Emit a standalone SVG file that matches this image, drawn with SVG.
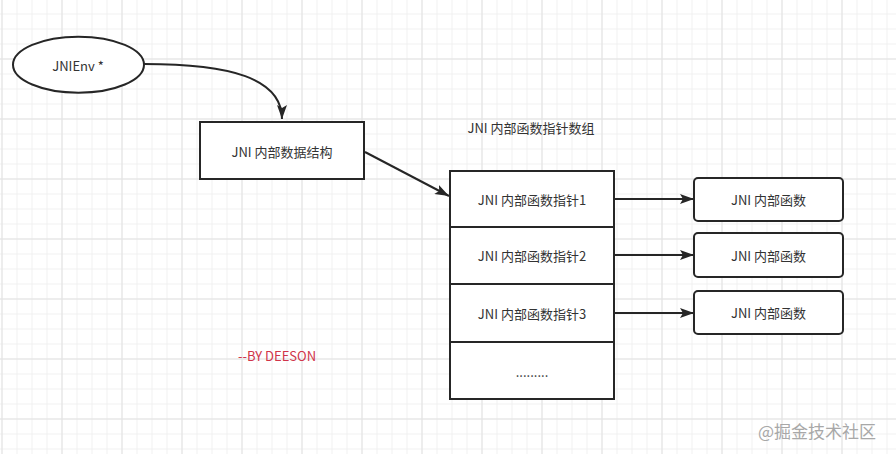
<svg xmlns="http://www.w3.org/2000/svg" width="896" height="454" viewBox="0 0 896 454">
<defs>
<pattern id="minor" x="1.5" y="13.5" width="15" height="15" patternUnits="userSpaceOnUse">
<path d="M0.5,0 V15 M0,0.5 H15" stroke="#f0f0f0" stroke-width="1" fill="none"/>
</pattern>
<pattern id="major" x="1.5" y="58.5" width="60" height="60" patternUnits="userSpaceOnUse">
<path d="M0.5,0 V60 M0,0.5 H60" stroke="#e2e2e2" stroke-width="1" fill="none"/>
</pattern>
<marker id="arr" viewBox="0 0 14 10" refX="14" refY="5" markerWidth="14" markerHeight="10" markerUnits="userSpaceOnUse" orient="auto">
<path d="M0,0 L14,5 L0,10 L3,5 Z" fill="#262626"/>
</marker>
<style>
.t{font-family:"Microsoft YaHei","Noto Sans CJK SC","Noto Sans",sans-serif;font-size:13px;fill:#333;text-anchor:middle;dominant-baseline:central}
.box{fill:#fff;stroke:#262626;stroke-width:2}
.ln{fill:none;stroke:#262626;stroke-width:2}
</style>
</defs>
<rect width="896" height="454" fill="#fff"/>
<rect width="896" height="454" fill="url(#minor)"/>
<rect width="896" height="454" fill="url(#major)"/>

<g id="connectors">
<path class="ln" d="M144,64 C230,64 282,78 282,119" marker-end="url(#arr)"/>
<path class="ln" d="M365,152 L449,196" marker-end="url(#arr)"/>
<path class="ln" d="M614,199 L694,199" marker-end="url(#arr)"/>
<path class="ln" d="M614,255 L694,255" marker-end="url(#arr)"/>
<path class="ln" d="M614,313 L694,313" marker-end="url(#arr)"/>
</g>

<g id="jnienv">
<ellipse class="box" cx="78.5" cy="64.7" rx="65.5" ry="28"/>
<text class="t" x="78" y="65">JNIEnv *</text>
</g>

<g id="struct">
<rect class="box" x="200" y="122" width="164" height="57"/>
<text class="t" x="282" y="151">JNI 内部数据结构</text>
</g>

<g id="array-label">
<text class="t" x="531" y="127">JNI 内部函数指针数组</text>
</g>

<g id="ptr1">
<rect class="box" x="450" y="171" width="164" height="56"/>
<text class="t" x="532" y="199">JNI 内部函数指针1</text>
</g>
<g id="ptr2">
<rect class="box" x="450" y="227" width="164" height="57"/>
<text class="t" x="532" y="255">JNI 内部函数指针2</text>
</g>
<g id="ptr3">
<rect class="box" x="450" y="284" width="164" height="58"/>
<text class="t" x="532" y="313">JNI 内部函数指针3</text>
</g>
<g id="ptr-more">
<rect class="box" x="450" y="342" width="164" height="57"/>
<text class="t" x="532" y="371">.........</text>
</g>

<g id="func1">
<rect class="box" x="694" y="178" width="149" height="43" rx="4"/>
<text class="t" x="768.5" y="199.5">JNI 内部函数</text>
</g>
<g id="func2">
<rect class="box" x="694" y="233" width="149" height="44" rx="4"/>
<text class="t" x="768.5" y="255">JNI 内部函数</text>
</g>
<g id="func3">
<rect class="box" x="694" y="291" width="149" height="43" rx="4"/>
<text class="t" x="768.5" y="312.5">JNI 内部函数</text>
</g>

<g id="author">
<text class="t" x="277" y="355" style="fill:#d0344a">--BY DEESON</text>
</g>

<g id="watermark">
<text class="t" x="817" y="430" style="font-size:17px;fill:#a8a8a8">@掘金技术社区</text>
</g>
</svg>
